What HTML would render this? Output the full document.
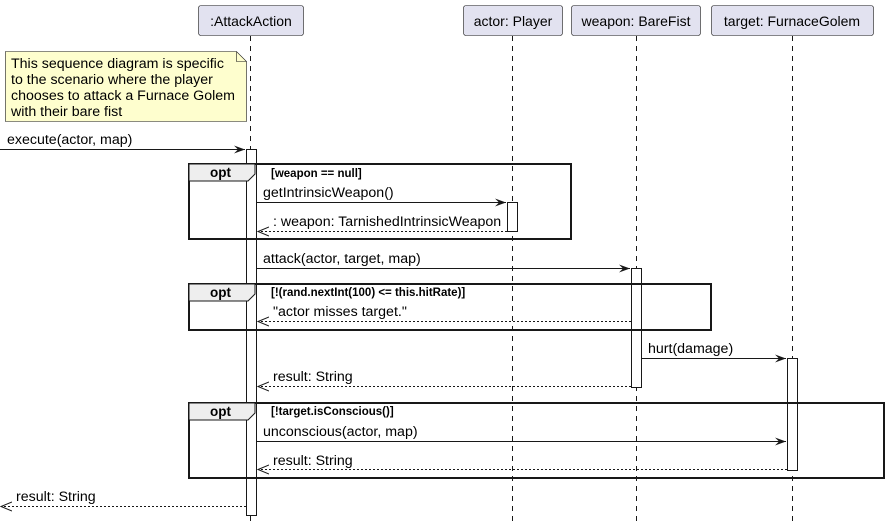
<!DOCTYPE html>
<html><head><meta charset="utf-8"><style>
html,body{margin:0;padding:0;background:#fff;width:888px;height:530px;overflow:hidden}
svg text{font-family:"Liberation Sans",sans-serif;fill:#000}
</style></head><body>
<svg width="888" height="530" viewBox="0 0 888 530" xmlns="http://www.w3.org/2000/svg">
<defs>
<marker id="a" markerWidth="12" markerHeight="10" refX="11" refY="5" orient="auto" markerUnits="userSpaceOnUse">
<path d="M0,1 L11,5 L0,9 L4,5 Z" fill="#181818"/></marker>
<marker id="o" markerWidth="12" markerHeight="10" refX="11" refY="5" orient="auto" markerUnits="userSpaceOnUse">
<path d="M0,0.5 L11,5 L0,9.5" fill="none" stroke="#181818" stroke-width="1"/></marker>
</defs>
<g stroke="#181818" stroke-width="1" stroke-dasharray="5,5">
<line x1="250.5" y1="36" x2="250.5" y2="522"/>
<line x1="512.5" y1="36" x2="512.5" y2="522"/>
<line x1="636.5" y1="36" x2="636.5" y2="522"/>
<line x1="792.5" y1="36" x2="792.5" y2="522"/>
</g>
<g fill="#e2e2f0" stroke="#181818" stroke-width="0.6">
<rect x="198.5" y="5.5" width="105" height="30" rx="2.5"/>
<rect x="463.5" y="5.5" width="99" height="30" rx="2.5"/>
<rect x="571.5" y="5.5" width="129" height="30" rx="2.5"/>
<rect x="711.5" y="5.5" width="162" height="30" rx="2.5"/>
</g>
<g font-size="14">
<text x="251" y="26" text-anchor="middle">:AttackAction</text>
<text x="513" y="26" text-anchor="middle">actor: Player</text>
<text x="636" y="26" text-anchor="middle">weapon: BareFist</text>
<text x="792" y="26" text-anchor="middle">target: FurnaceGolem</text>
</g>
<path d="M5.5,51.5 H236.5 L246.5,61.5 V121.5 H5.5 Z" fill="#fefece" stroke="#181818" stroke-width="0.6"/>
<path d="M236.5,51.5 V61.5 H246.5" fill="none" stroke="#181818" stroke-width="0.6"/>
<g font-size="14.2">
<text x="11" y="68">This sequence diagram is specific</text>
<text x="11" y="84">to the scenario where the player</text>
<text x="11" y="100">chooses to attack a Furnace Golem</text>
<text x="11" y="116">with their bare fist</text>
</g>
<g fill="#fff" stroke="#181818" stroke-width="1">
<rect x="246.5" y="149.5" width="10" height="366"/>
<rect x="507.5" y="202.5" width="10" height="29"/>
<rect x="631.5" y="268.5" width="10" height="119"/>
<rect x="787.5" y="358.5" width="10" height="112"/>
</g>
<g fill="none" stroke="#181818" stroke-width="2">
<rect x="189" y="164" width="382" height="75"/>
<rect x="189" y="284" width="522" height="46"/>
<rect x="189" y="403" width="695" height="75"/>
</g>
<g fill="#eee" stroke="#181818" stroke-width="1">
<path d="M189,164 H255 V174 L248,181 H189 Z"/>
<path d="M189,284 H255 V294 L248,301 H189 Z"/>
<path d="M189,403 H255 V413 L248,420 H189 Z"/>
</g>
<g font-size="13.5" font-weight="bold">
<text x="210" y="177">opt</text>
<text x="210" y="297">opt</text>
<text x="210" y="416">opt</text>
</g>
<g font-size="11.5" font-weight="bold">
<text x="271" y="177">[weapon == null]</text>
<text x="271" y="296">[!(rand.nextInt(100) &lt;= this.hitRate)]</text>
<text x="271" y="415">[!target.isConscious()]</text>
</g>
<g stroke="#181818" stroke-width="1" fill="none">
<line x1="0" y1="149.5" x2="245" y2="149.5" marker-end="url(#a)"/>
<line x1="257" y1="202.5" x2="506" y2="202.5" marker-end="url(#a)"/>
<line x1="257" y1="268.5" x2="630" y2="268.5" marker-end="url(#a)"/>
<line x1="642" y1="358.5" x2="786" y2="358.5" marker-end="url(#a)"/>
<line x1="257" y1="441.5" x2="786" y2="441.5" marker-end="url(#a)"/>
<g stroke-dasharray="2,2">
<line x1="507" y1="231.5" x2="258" y2="231.5" marker-end="url(#o)"/>
<line x1="631" y1="321.5" x2="258" y2="321.5" marker-end="url(#o)"/>
<line x1="631" y1="386.5" x2="258" y2="386.5" marker-end="url(#o)"/>
<line x1="787" y1="469.5" x2="258" y2="469.5" marker-end="url(#o)"/>
<line x1="246" y1="506.5" x2="1" y2="506.5" marker-end="url(#o)"/>
</g>
</g>
<g font-size="14.2">
<text x="7" y="144">execute(actor, map)</text>
<text x="263" y="197">getIntrinsicWeapon()</text>
<text x="273" y="226">: weapon: TarnishedIntrinsicWeapon</text>
<text x="263" y="263">attack(actor, target, map)</text>
<text x="273" y="316">"actor misses target."</text>
<text x="648" y="353">hurt(damage)</text>
<text x="273" y="381">result: String</text>
<text x="263" y="436">unconscious(actor, map)</text>
<text x="273" y="465">result: String</text>
<text x="16" y="501">result: String</text>
</g>
</svg>
</body></html>
